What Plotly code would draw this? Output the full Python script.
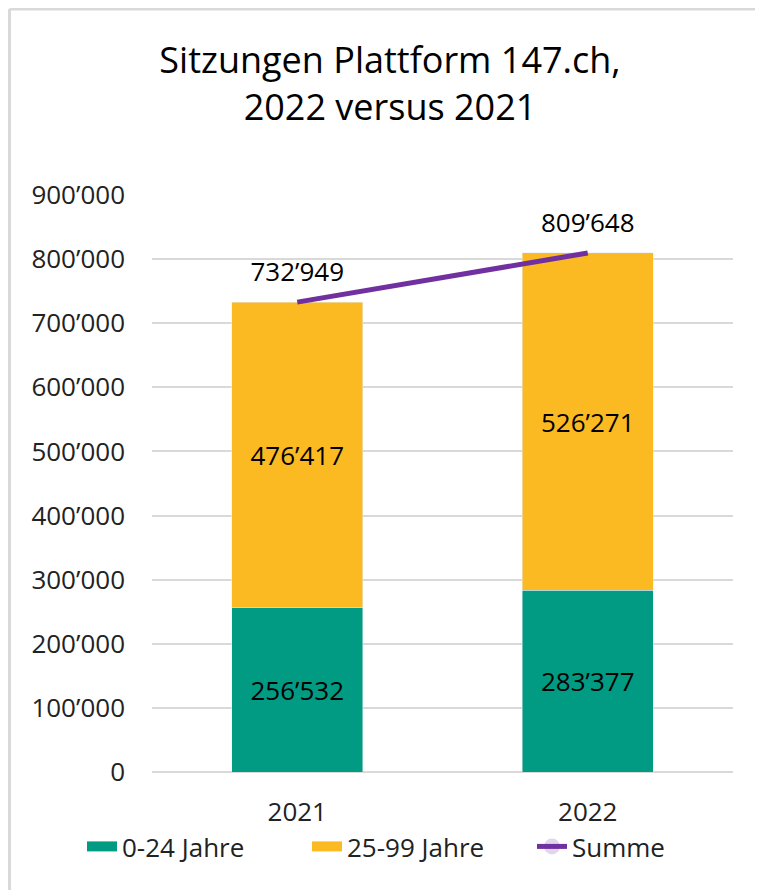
import plotly.graph_objects as go

years = ["2021", "2022"]
jung = [256532, 283377]
alt = [476417, 526271]
summe = [732949, 809648]
series_names = ["0-24 Jahre", "25-99 Jahre", "Summe"]
title_text = "Sitzungen Plattform 147.ch,<br>2022 versus 2021"

TEAL = "#009B82"
YELLOW = "#FBBA22"
PURPLE = "#7030A0"
FONT = "Open Sans"
FS = 26

fig = go.Figure()
fig.add_trace(go.Bar(
    x=years, y=jung, name=series_names[0], marker_color=TEAL, showlegend=False,
    text=jung, texttemplate="%{y:,}", textposition="inside",
    insidetextanchor="middle", textangle=0,
    textfont=dict(size=FS, color="black", family=FONT),
))
fig.add_trace(go.Bar(
    x=years, y=alt, name=series_names[1], marker_color=YELLOW, showlegend=False,
    text=alt, texttemplate="%{y:,}", textposition="inside",
    insidetextanchor="middle", textangle=0,
    textfont=dict(size=FS, color="black", family=FONT),
))
# legend entries for the bars (wide rectangle symbols)
for nm, col in [(series_names[0], TEAL), (series_names[1], YELLOW)]:
    fig.add_trace(go.Scatter(x=[None], y=[None], mode="lines", name=nm,
                             line=dict(color=col, width=14)))
fig.add_trace(go.Scatter(
    x=years, y=summe, name=series_names[2], mode="lines+markers+text",
    line=dict(color=PURPLE, width=5),
    marker=dict(size=22, opacity=0),
    text=summe, texttemplate="%{y:,}", textposition="top center",
    textfont=dict(size=FS, color="black", family=FONT),
))

# chart border (light gray frame)
fig.add_shape(type="line", xref="paper", yref="paper", x0=-0.2453, x1=1.2,
              y0=1.3224, y1=1.3224, line=dict(color="#D9D9D9", width=3))
fig.add_shape(type="line", xref="paper", yref="paper", x0=-0.2453, x1=-0.2453,
              y0=1.3224, y1=-0.3, line=dict(color="#D9D9D9", width=3))

fig.update_layout(
    width=763, height=890,
    paper_bgcolor="white", plot_bgcolor="white",
    barmode="stack", bargap=0.55,
    separators=".’",
    font=dict(family=FONT, size=FS, color="#222"),
    title=dict(text=title_text, x=382/763, xanchor="center",
               xref="container", yref="container", y=1 - 65/890, yanchor="top",
               font=dict(size=36, color="black", family=FONT)),
    margin=dict(l=144, r=38, t=187, b=126, autoexpand=False),
    legend=dict(orientation="h", xref="paper", yref="paper",
                x=-0.1205, xanchor="left", y=-0.0884, yanchor="top",
                font=dict(size=FS, color="#222", family=FONT),
                traceorder="normal", itemwidth=30, entrywidth=180),
    showlegend=True,
)
fig.update_xaxes(showgrid=False, showline=False, ticks="", ticklabelstandoff=22,
                 tickfont=dict(size=FS, color="#222"))
fig.update_yaxes(range=[0, 900000], dtick=100000, tickformat=",",
                 showgrid=True, gridcolor="#D9D9D9", gridwidth=2,
                 zeroline=True, zerolinecolor="#D9D9D9", zerolinewidth=2,
                 showline=False, ticks="", ticklabelstandoff=26,
                 tickfont=dict(size=FS, color="#222"))

fig.write_html("out.html")
